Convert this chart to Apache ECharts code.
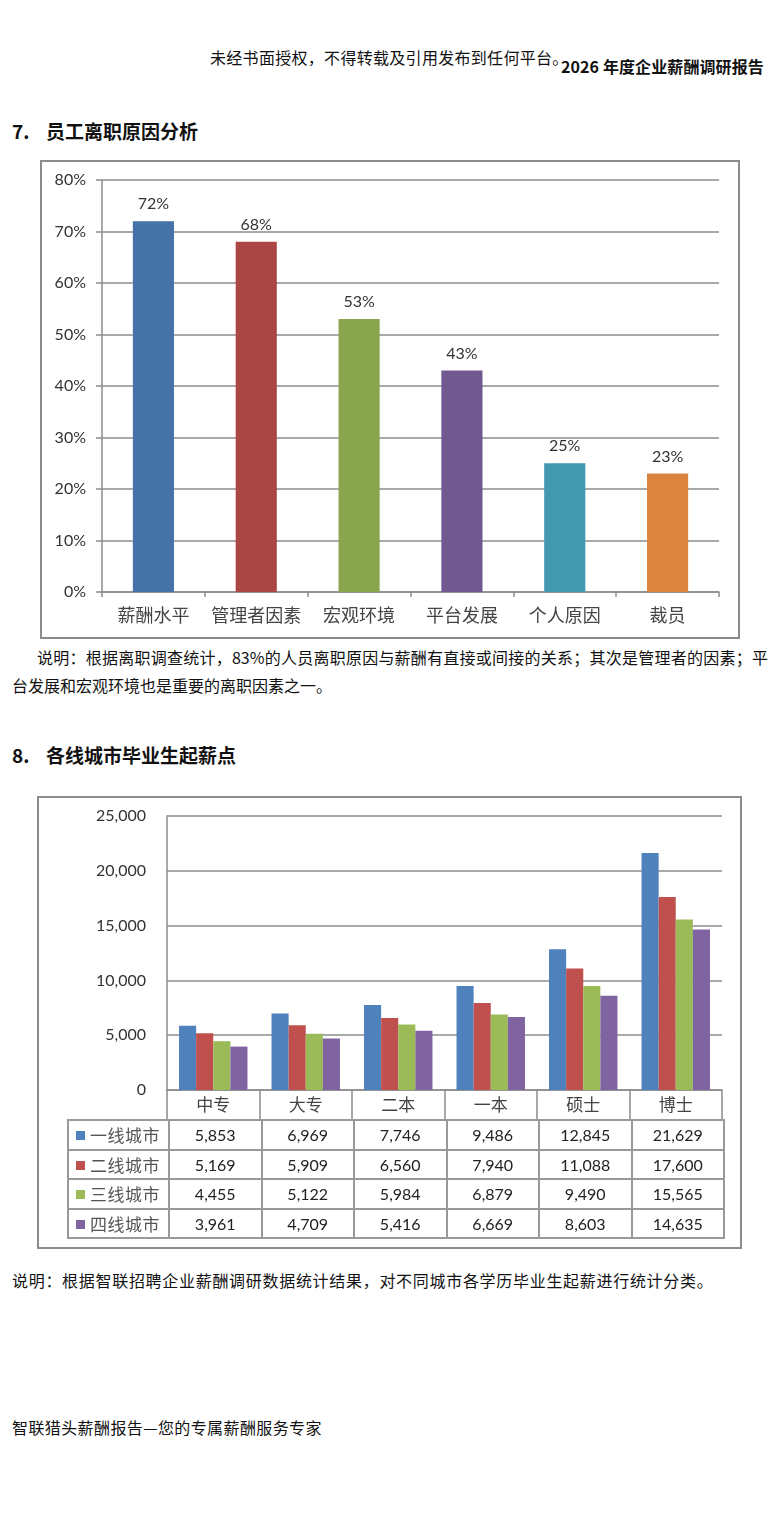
<!DOCTYPE html>
<html>
<head>
<meta charset="UTF-8">
<title>员工离职原因分析 / 各线城市毕业生起薪点</title>
<script src="https://cdn.jsdelivr.net/npm/echarts@6/dist/echarts.min.js"></script>
<style>
  html, body { margin: 0; padding: 0; background: #fff; }
  body { width: 773px; height: 1526px; position: relative; overflow: hidden;
         font-family: "Noto Sans CJK SC", "Noto Sans", sans-serif; color: #111; }
  .txt { position: absolute; white-space: nowrap; }
  .frame { position: absolute; border: 2px solid #8c8c8c; box-sizing: border-box; }
  .chart { position: absolute; }
  .h2 { font-size: 19px; font-weight: bold; line-height: 19px; }
  .h2 .num { display: inline-block; width: 34px; }
  .p { font-size: 16px; line-height: 16px; }
  #cityTable { position: absolute; left: 67px; top: 1119px; border-collapse: collapse;
               table-layout: fixed; width: 656px; }
  #cityTable td { border: 2px solid #999; height: 27.6px; padding: 0; text-align: center;
                  font-family: Lato, "Noto Sans", sans-serif; font-size: 16px; color: #222; }
  #cityTable td.lg { text-align: left; padding-left: 7px; font-family: "Noto Sans CJK SC", sans-serif;
                     font-size: 17px; color: #555; white-space: nowrap; letter-spacing: 0.5px; }
  #cityTable td.lg i { display: inline-block; width: 9px; height: 9px; margin-right: 5px;
                       vertical-align: 2px; }
</style>
</head>
<body>
  <div class="txt p" style="left:210px;top:49px;letter-spacing:0.3px;">未经书面授权，不得转载及引用发布到任何平台。</div>
  <div class="txt" style="left:561px;top:58px;font-size:16px;line-height:16px;font-weight:bold;letter-spacing:0.1px;">2026 年度企业薪酬调研报告</div>

  <div class="txt h2" style="left:12px;top:121px;"><span class="num">7.</span>员工离职原因分析</div>
  <div class="frame" style="left:40px;top:160px;width:700px;height:479px;"></div>
  <div id="reasonChart" class="chart" style="left:40px;top:160px;width:700px;height:479px;"></div>
  <div class="txt p" style="left:37px;top:649px;width:731px;text-align:justify;text-align-last:justify;">说明：根据离职调查统计，83%的人员离职原因与薪酬有直接或间接的关系；其次是管理者的因素；平</div>
  <div class="txt p" style="left:12px;top:677px;">台发展和宏观环境也是重要的离职因素之一。</div>

  <div class="txt h2" style="left:12px;top:745px;"><span class="num">8.</span>各线城市毕业生起薪点</div>
  <div class="frame" style="left:37px;top:796px;width:705px;height:453px;"></div>
  <div id="cityChart" class="chart" style="left:37px;top:796px;width:705px;height:453px;"></div>
  <table id="cityTable"></table>
  <div class="txt p" style="left:12px;top:1272px;letter-spacing:0.7px;">说明：根据智联招聘企业薪酬调研数据统计结果，对不同城市各学历毕业生起薪进行统计分类。</div>

  <div class="txt p" style="left:12px;top:1419px;letter-spacing:0.4px;">智联猎头薪酬报告—您的专属薪酬服务专家</div>

<script type="text/javascript">
// 离职原因（%）
var reasonCats = ['薪酬水平', '管理者因素', '宏观环境', '平台发展', '个人原因', '裁员'];
var reasonVals = [72, 68, 53, 43, 25, 23];
var reasonColors = ['#4572A7', '#AA4643', '#89A54E', '#71588F', '#4198AF', '#DB843D'];

// 各线城市起薪（元）
var eduCats = ['中专', '大专', '二本', '一本', '硕士', '博士'];
var cityNames = ['一线城市', '二线城市', '三线城市', '四线城市'];
var tier1 = [5853, 6969, 7746, 9486, 12845, 21629];
var tier2 = [5169, 5909, 6560, 7940, 11088, 17600];
var tier3 = [4455, 5122, 5984, 6879, 9490, 15565];
var tier4 = [3961, 4709, 5416, 6669, 8603, 14635];
var cityColors = ['#4F81BD', '#C0504D', '#9BBB59', '#8064A2'];

var gray = '#8c8c8c';
var numFont = 'Lato, "Noto Sans", sans-serif';
var cjkFont = '"Noto Sans CJK SC", sans-serif';

// 图一
var reasonChart = echarts.init(document.getElementById('reasonChart'));
reasonChart.setOption({
  animation: false,
  grid: { left: 62, right: 21, top: 20, bottom: 47 },
  xAxis: {
    type: 'category',
    data: reasonCats,
    axisLine: { lineStyle: { color: gray, width: 1.5 } },
    axisTick: { show: true, length: 5, lineStyle: { color: gray, width: 1.5 } },
    axisLabel: { interval: 0, margin: 14, fontSize: 18, color: '#444', fontFamily: cjkFont }
  },
  yAxis: {
    type: 'value',
    min: 0, max: 80, interval: 10,
    axisLine: { show: true, lineStyle: { color: gray, width: 1.5 } },
    axisTick: { show: true, length: 6, lineStyle: { color: gray, width: 1.5 } },
    axisLabel: { formatter: '{value}%', margin: 16, fontSize: 16, color: '#333', fontFamily: numFont },
    splitLine: { lineStyle: { color: gray, width: 1.5 } }
  },
  series: [{
    type: 'bar',
    barWidth: '40%',
    data: reasonVals.map(function (v, i) {
      return { value: v, itemStyle: { color: reasonColors[i] } };
    }),
    label: {
      show: true, position: 'top', distance: 9,
      formatter: '{c}%', fontSize: 16, color: '#333', fontFamily: numFont
    }
  }]
});

// 图二
var cityData = [tier1, tier2, tier3, tier4];
var cityChart = echarts.init(document.getElementById('cityChart'));
cityChart.setOption({
  animation: false,
  grid: { left: 130, top: 20, width: 555, height: 274 },
  xAxis: {
    type: 'category',
    data: eduCats,
    axisLine: { lineStyle: { color: gray, width: 1.5 } },
    axisTick: { show: true, length: 30, lineStyle: { color: gray, width: 1.5 } },
    axisLabel: { interval: 0, margin: 6, fontSize: 17, color: '#444', fontFamily: cjkFont }
  },
  yAxis: {
    type: 'value',
    min: 0, max: 25000, interval: 5000,
    axisLine: { show: true, lineStyle: { color: gray, width: 1.5 } },
    axisTick: { show: false },
    axisLabel: {
      margin: 21, fontSize: 16, color: '#333', fontFamily: numFont,
      formatter: function (v) { return v.toLocaleString('en-US'); }
    },
    splitLine: { lineStyle: { color: gray, width: 1.5 } }
  },
  series: cityData.map(function (arr, i) {
    return {
      name: cityNames[i],
      type: 'bar',
      barGap: '0%',
      barCategoryGap: '26%',
      itemStyle: { color: cityColors[i] },
      data: arr
    };
  })
});

// 数据表
var html = '<colgroup><col style="width:101px">';
for (var c = 0; c < eduCats.length; c++) html += '<col style="width:92.5px">';
html += '</colgroup>';
for (var r = 0; r < cityData.length; r++) {
  html += '<tr><td class="lg"><i style="background:' + cityColors[r] + '"></i>' + cityNames[r] + '</td>';
  for (var k = 0; k < cityData[r].length; k++) {
    html += '<td>' + cityData[r][k].toLocaleString('en-US') + '</td>';
  }
  html += '</tr>';
}
document.getElementById('cityTable').innerHTML = html;
</script>
</body>
</html>
